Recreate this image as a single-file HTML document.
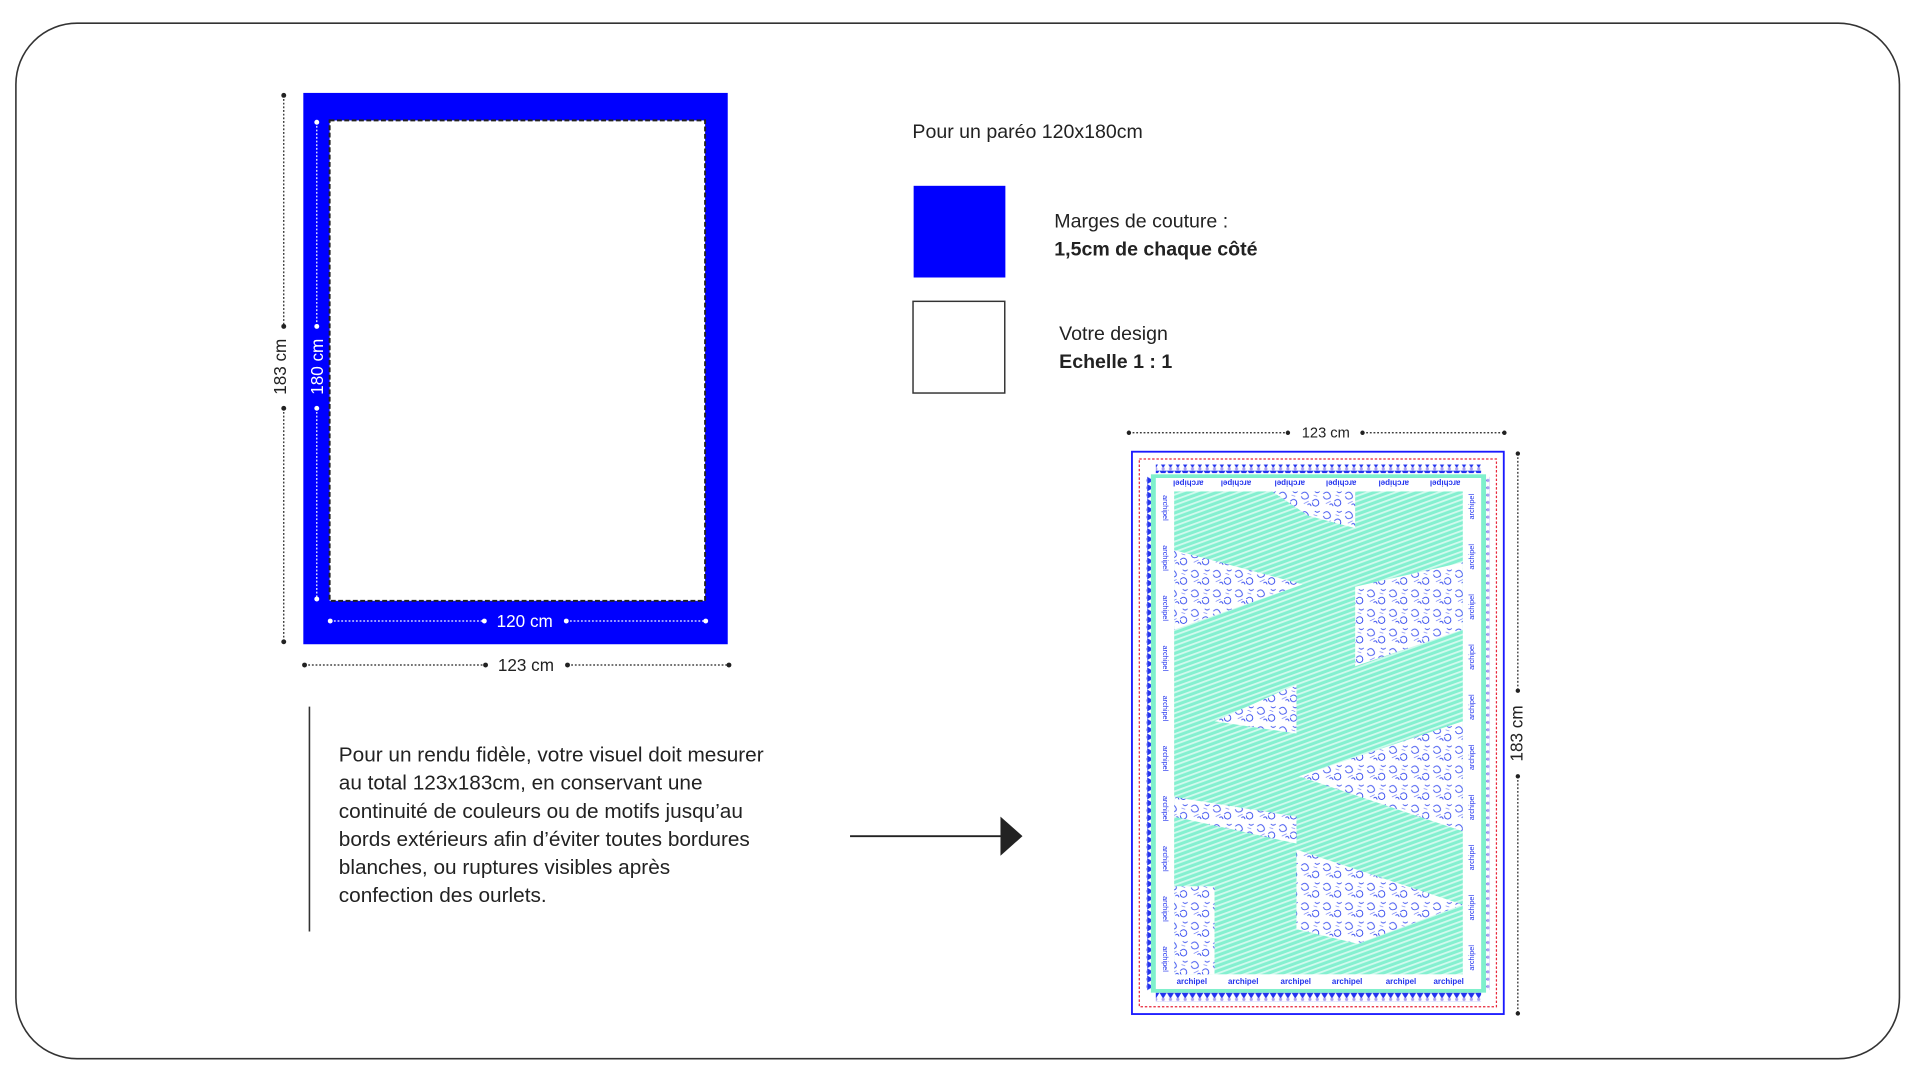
<!DOCTYPE html>
<html><head><meta charset="utf-8"><style>
html,body{margin:0;padding:0;background:#fff;}
svg{display:block;font-family:"Liberation Sans",sans-serif;}
</style></head><body>
<svg width="1908" height="1066" viewBox="0 0 1560 872" preserveAspectRatio="none" xmlns="http://www.w3.org/2000/svg">
<defs>
<pattern id="stripe" width="4" height="4" patternUnits="userSpaceOnUse" patternTransform="rotate(-20)">
<rect width="4" height="4" fill="#84f0d0"/><rect width="4" height="1.5" fill="#d2faee"/>
</pattern>
<pattern id="flor" width="18" height="16" patternUnits="userSpaceOnUse">
<rect width="18" height="16" fill="#fff"/>
<path d="M2 4 Q5 1 7 4 Q9 7 6 8 Q3 9 2 6 M11 10 Q14 7 16 10 Q17 13 14 14 Q11 14 11 11 M7 13 Q9 11 10 14 M13 2 Q15 4 17 2" fill="none" stroke="#2f45ee" stroke-width="0.7"/>
<path d="M4 12 L8 10 M12 5 L15 6" stroke="#5060f5" stroke-width="0.5"/>
</pattern>
<pattern id="tri" width="6" height="7" patternUnits="userSpaceOnUse">
<polygon points="0,0 6,0 3,5" fill="#2233ee"/><circle cx="3" cy="5.5" r="1.3" fill="#a9a0f0"/>
</pattern>
<pattern id="triv" width="7" height="6" patternUnits="userSpaceOnUse">
<polygon points="0,0 0,6 5,3" fill="#2233ee"/><circle cx="5.5" cy="3" r="1.3" fill="#a9a0f0"/>
</pattern>
</defs>
<rect x="13" y="19" width="1540" height="847" rx="50" fill="#fff" stroke="#333" stroke-width="1.3"/>

<rect x="248" y="76" width="347" height="451" fill="#0000ff"/>
<rect x="269.5" y="98.5" width="307" height="393" fill="#fff" stroke="#222" stroke-width="1.6" stroke-dasharray="4 2"/>
<g stroke="#fff" stroke-width="1" stroke-dasharray="1.5 1.5" fill="#fff">
<line x1="259" y1="100" x2="259" y2="267"/><line x1="259" y1="334" x2="259" y2="490"/>
<line x1="270" y1="508" x2="396" y2="508"/><line x1="463" y1="508" x2="577" y2="508"/>
</g>
<g fill="#fff"><circle cx="259" cy="100" r="2"/><circle cx="259" cy="267" r="2"/><circle cx="259" cy="334" r="2"/><circle cx="259" cy="490" r="2"/>
<circle cx="270" cy="508" r="2"/><circle cx="396" cy="508" r="2"/><circle cx="463" cy="508" r="2"/><circle cx="577" cy="508" r="2"/></g>
<text x="429" y="513" fill="#fff" font-size="14" text-anchor="middle">120 cm</text>
<text transform="translate(264,300) rotate(-90)" fill="#fff" font-size="14" text-anchor="middle">180 cm</text>
<g stroke="#222" stroke-width="1" stroke-dasharray="1.5 1.5">
<line x1="232" y1="78" x2="232" y2="267"/><line x1="232" y1="334" x2="232" y2="525"/>
<line x1="249" y1="544" x2="397" y2="544"/><line x1="464" y1="544" x2="596" y2="544"/>
</g>
<g fill="#222"><circle cx="232" cy="78" r="2"/><circle cx="232" cy="267" r="2"/><circle cx="232" cy="334" r="2"/><circle cx="232" cy="525" r="2"/>
<circle cx="249" cy="544" r="2"/><circle cx="397" cy="544" r="2"/><circle cx="464" cy="544" r="2"/><circle cx="596" cy="544" r="2"/></g>
<text x="430" y="549" fill="#222" font-size="14" text-anchor="middle">123 cm</text>
<text transform="translate(234,300) rotate(-90)" fill="#222" font-size="14" text-anchor="middle">183 cm</text>

<text x="746" y="113" font-size="16" fill="#222">Pour un paréo 120x180cm</text>
<rect x="747" y="152" width="75" height="75" fill="#0000ff"/>
<text x="862" y="186" font-size="16" fill="#222">Marges de couture :</text>
<text x="862" y="209" font-size="16" font-weight="bold" fill="#222">1,5cm de chaque côté</text>
<rect x="746.5" y="246.5" width="75" height="75" fill="#fff" stroke="#333" stroke-width="1.2"/>
<text x="866" y="278" font-size="16" fill="#222">Votre design</text>
<text x="866" y="301" font-size="16" font-weight="bold" fill="#222">Echelle 1 : 1</text>

<line x1="253" y1="578" x2="253" y2="762" stroke="#333" stroke-width="1.3"/>
<g font-size="17" fill="#222">
<text x="277" y="623">Pour un rendu fidèle, votre visuel doit mesurer</text>
<text x="277" y="646">au total 123x183cm, en conservant une</text>
<text x="277" y="669">continuité de couleurs  ou de motifs jusqu’au</text>
<text x="277" y="692">bords extérieurs afin d’éviter toutes bordures</text>
<text x="277" y="715">blanches, ou ruptures visibles après</text>
<text x="277" y="738">confection des ourlets.</text>
</g>
<line x1="695" y1="684" x2="820" y2="684" stroke="#222" stroke-width="1.5"/>
<polygon points="818,668 836,684 818,700" fill="#222"/>

<g stroke="#222" stroke-width="1" stroke-dasharray="1.5 1.5">
<line x1="923" y1="354" x2="1053" y2="354"/><line x1="1114" y1="354" x2="1230" y2="354"/>
<line x1="1241" y1="371" x2="1241" y2="565"/><line x1="1241" y1="635" x2="1241" y2="829"/>
</g>
<g fill="#222"><circle cx="923" cy="354" r="1.8"/><circle cx="1053" cy="354" r="1.8"/><circle cx="1114" cy="354" r="1.8"/><circle cx="1230" cy="354" r="1.8"/>
<circle cx="1241" cy="371" r="1.8"/><circle cx="1241" cy="565" r="1.8"/><circle cx="1241" cy="635" r="1.8"/><circle cx="1241" cy="829" r="1.8"/></g>
<text x="1084" y="358" font-size="12" fill="#222" text-anchor="middle">123 cm</text>
<text transform="translate(1245,600) rotate(-90)" font-size="14" fill="#222" text-anchor="middle">183 cm</text>

<rect x="925.5" y="369.5" width="304" height="460" fill="#fff" stroke="#1a1aff" stroke-width="1.5"/>
<rect x="931.5" y="375.5" width="292" height="448" fill="none" stroke="#e8263a" stroke-width="1" stroke-dasharray="2 1.5"/>
<rect x="945" y="380" width="266" height="7" fill="url(#tri)"/>
<rect x="945" y="812" width="266" height="7" fill="url(#tri)"/>
<rect x="937" y="390" width="7" height="420" fill="url(#triv)"/>
<rect x="1211" y="390" width="7" height="420" fill="url(#triv)"/>
<rect x="941" y="388" width="274" height="424" fill="#7ff0cc"/>
<rect x="945" y="391" width="266" height="418" fill="#fff"/>
<rect x="960" y="402" width="236" height="395" fill="url(#stripe)"/>
<g fill="url(#flor)">
<polygon points="1040,402 1108,402 1108,432 1070,422"/>
<polygon points="960,450 1065,478 960,515"/>
<polygon points="1108,480 1196,460 1196,515 1108,545"/>
<polygon points="993,590 1060,560 1060,600"/>
<polygon points="1062,635 1196,590 1196,680"/>
<polygon points="960,652 1060,668 1060,690 960,668"/>
<polygon points="1060,695 1196,740 1110,772 1060,760"/>
<polygon points="960,725 993,725 993,797 960,797"/>
</g>
<g font-size="6.5" font-weight="bold" fill="#2233ee">
<text x="962" y="805">archipel</text><text x="1004" y="805">archipel</text><text x="1047" y="805">archipel</text><text x="1089" y="805">archipel</text><text x="1133" y="805">archipel</text><text x="1172" y="805">archipel</text>
<g transform="rotate(180 1078 396)"><text x="962" y="399">archipel</text><text x="1004" y="399">archipel</text><text x="1047" y="399">archipel</text><text x="1089" y="399">archipel</text><text x="1133" y="399">archipel</text><text x="1172" y="399">archipel</text></g>
</g>
<g font-size="6" fill="#2233ee">
<text transform="translate(1205,425) rotate(-90)">archipel</text><text transform="translate(1205,466) rotate(-90)">archipel</text><text transform="translate(1205,507) rotate(-90)">archipel</text><text transform="translate(1205,548) rotate(-90)">archipel</text><text transform="translate(1205,589) rotate(-90)">archipel</text><text transform="translate(1205,630) rotate(-90)">archipel</text><text transform="translate(1205,671) rotate(-90)">archipel</text><text transform="translate(1205,712) rotate(-90)">archipel</text><text transform="translate(1205,753) rotate(-90)">archipel</text><text transform="translate(1205,794) rotate(-90)">archipel</text>
<text transform="translate(951,405) rotate(90)">archipel</text><text transform="translate(951,446) rotate(90)">archipel</text><text transform="translate(951,487) rotate(90)">archipel</text><text transform="translate(951,528) rotate(90)">archipel</text><text transform="translate(951,569) rotate(90)">archipel</text><text transform="translate(951,610) rotate(90)">archipel</text><text transform="translate(951,651) rotate(90)">archipel</text><text transform="translate(951,692) rotate(90)">archipel</text><text transform="translate(951,733) rotate(90)">archipel</text><text transform="translate(951,774) rotate(90)">archipel</text>
</g>
</svg>
</body></html>
